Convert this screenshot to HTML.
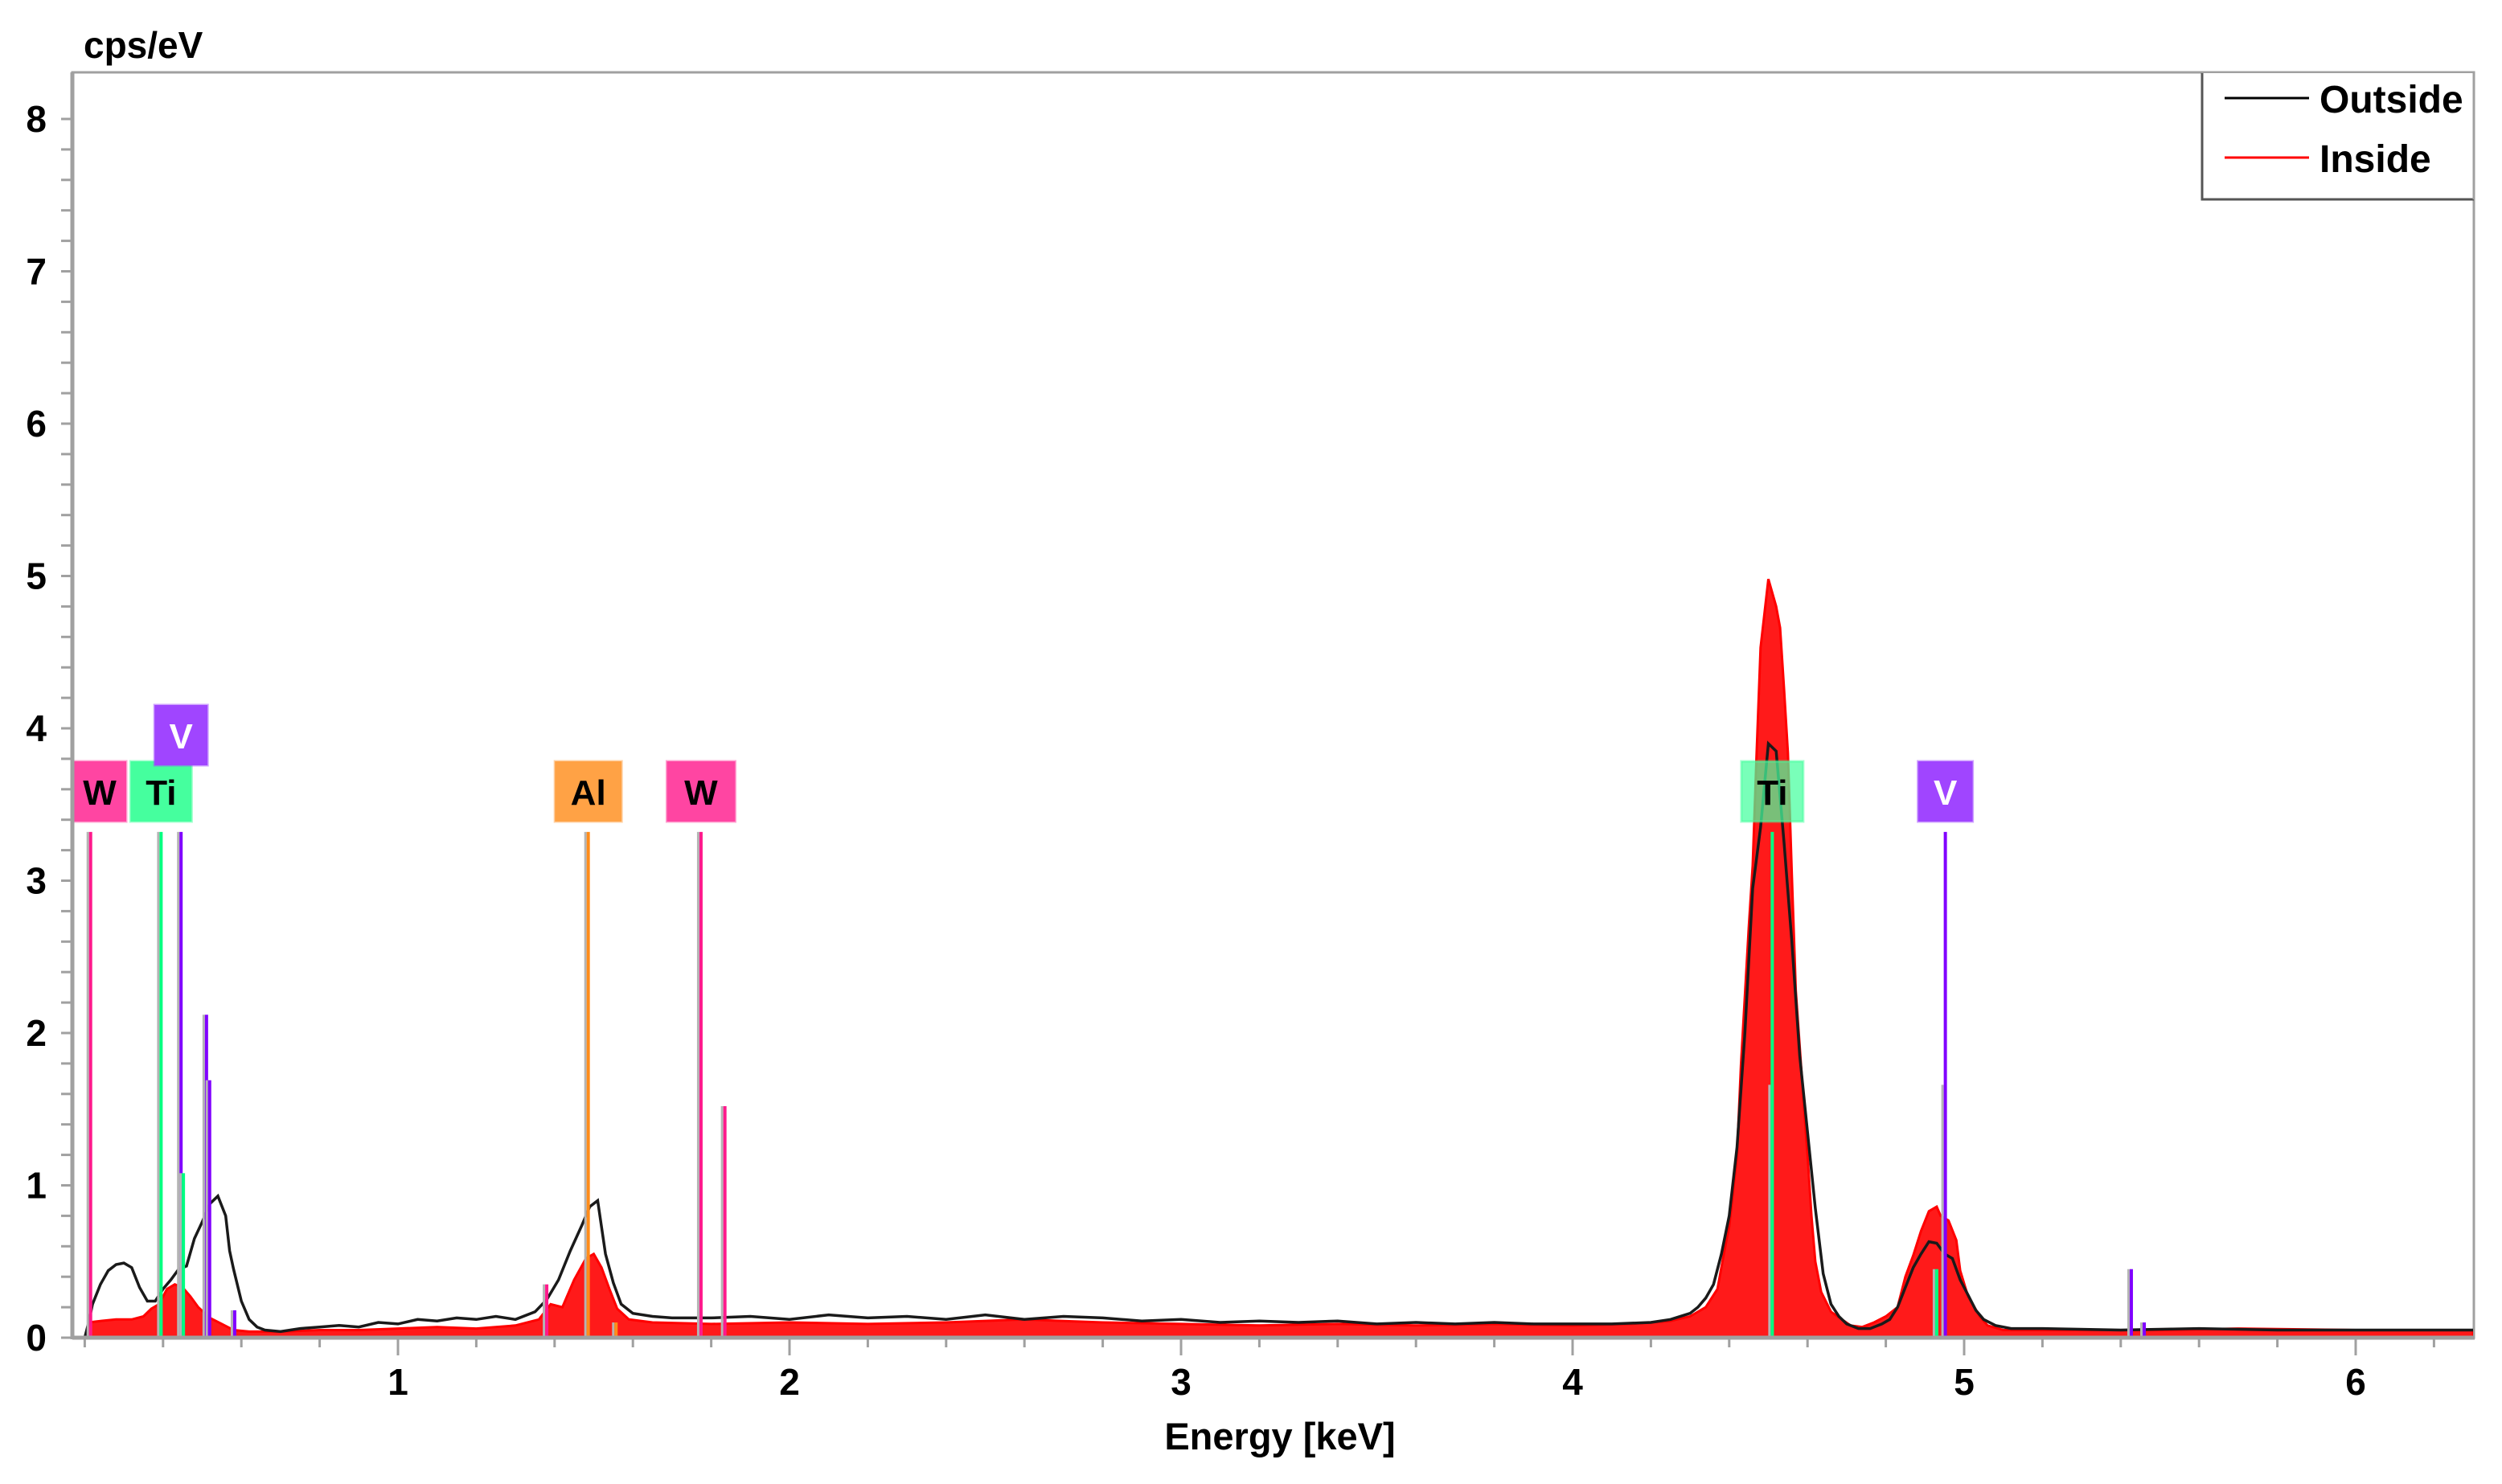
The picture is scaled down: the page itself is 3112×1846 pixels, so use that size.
<!DOCTYPE html>
<html><head><meta charset="utf-8">
<style>
html,body{margin:0;padding:0;background:#fff;}
svg{display:block;font-family:"Liberation Sans",Arial,sans-serif;font-weight:bold;}
</style></head>
<body>
<svg id="chart" width="3112" height="1846" viewBox="0 0 3112 1846" xmlns="http://www.w3.org/2000/svg">
<rect x="0" y="0" width="3112" height="1846" fill="#fff"/>
<defs><clipPath id="plotclip"><rect x="92" y="91" width="2984" height="1572"/></clipPath></defs>
<text x="104" y="72" font-size="46" fill="#000">cps/eV</text>
<rect x="90" y="90" width="2987" height="1574" fill="none" stroke="#a0a0a0" stroke-width="3"/>
<g id="yaxis"></g>
<g id="xaxis"></g>
<g id="series" clip-path="url(#plotclip)"></g>
<g id="markers" clip-path="url(#plotclip)"></g>
<g id="labels"></g>
<line x1="90" y1="1664" x2="3078" y2="1664" stroke="#a0a0a0" stroke-width="5"/>
<line x1="90" y1="90" x2="90" y2="1666" stroke="#a0a0a0" stroke-width="5"/>
<text x="1592" y="1803" font-size="47" text-anchor="middle" fill="#000">Energy [keV]</text>
<g>
<rect x="2739" y="91" width="337" height="157" fill="#fff" stroke="none"/>
<polyline points="2739,91 2739,248 3077,248" fill="none" stroke="#555" stroke-width="3"/>
<line x1="3077" y1="91" x2="3077" y2="248" stroke="#a0a0a0" stroke-width="3"/>
<line x1="2767" y1="122" x2="2872" y2="122" stroke="#000" stroke-width="3"/>
<text x="2885" y="140" font-size="48" fill="#000">Outside</text>
<line x1="2767" y1="196" x2="2872" y2="196" stroke="#ff0000" stroke-width="3"/>
<text x="2885" y="214" font-size="48" fill="#000">Inside</text>
</g>
</svg>
<script>
const outE=[0.20,0.21,0.22,0.24,0.26,0.28,0.30,0.32,0.34,0.36,0.38,0.40,0.42,0.44,0.46,0.48,0.50,0.52,0.54,0.56,0.57,0.58,0.60,0.62,0.64,0.66,0.70,0.75,0.80,0.85,0.90,0.95,1.00,1.05,1.10,1.15,1.20,1.25,1.30,1.35,1.38,1.41,1.44,1.47,1.49,1.51,1.53,1.55,1.57,1.60,1.65,1.70,1.80,1.90,2.00,2.10,2.20,2.30,2.40,2.50,2.60,2.70,2.80,2.90,3.00,3.10,3.20,3.30,3.40,3.50,3.60,3.70,3.80,3.90,4.00,4.10,4.20,4.25,4.30,4.32,4.34,4.36,4.38,4.40,4.42,4.44,4.46,4.48,4.50,4.52,4.54,4.56,4.58,4.60,4.62,4.64,4.66,4.68,4.70,4.73,4.76,4.79,4.81,4.83,4.85,4.87,4.89,4.91,4.93,4.95,4.97,4.99,5.01,5.03,5.05,5.08,5.12,5.20,5.40,5.60,5.80,6.00,6.20,6.30];
const outV=[0.0,0.10,0.22,0.35,0.44,0.48,0.49,0.46,0.33,0.24,0.24,0.32,0.38,0.45,0.47,0.65,0.76,0.88,0.93,0.80,0.57,0.45,0.24,0.12,0.07,0.05,0.04,0.06,0.07,0.08,0.07,0.10,0.09,0.12,0.11,0.13,0.12,0.14,0.12,0.17,0.25,0.38,0.57,0.74,0.86,0.90,0.55,0.36,0.22,0.16,0.14,0.13,0.13,0.14,0.12,0.15,0.13,0.14,0.12,0.15,0.12,0.14,0.13,0.11,0.12,0.10,0.11,0.10,0.11,0.09,0.10,0.09,0.10,0.09,0.09,0.09,0.10,0.12,0.16,0.20,0.26,0.35,0.55,0.80,1.25,2.00,2.95,3.35,3.90,3.85,3.25,2.60,1.85,1.35,0.85,0.42,0.22,0.14,0.09,0.06,0.06,0.09,0.12,0.20,0.33,0.46,0.55,0.63,0.62,0.55,0.52,0.38,0.28,0.18,0.12,0.08,0.06,0.06,0.05,0.06,0.05,0.05,0.05,0.05];
const inE=[0.20,0.21,0.24,0.28,0.32,0.35,0.37,0.39,0.41,0.43,0.45,0.47,0.49,0.52,0.55,0.58,0.62,0.70,0.80,0.90,1.00,1.10,1.20,1.30,1.36,1.39,1.42,1.45,1.48,1.50,1.52,1.54,1.56,1.59,1.65,1.80,2.00,2.20,2.40,2.60,2.70,2.80,3.00,3.20,3.40,3.60,3.80,4.00,4.15,4.25,4.30,4.34,4.37,4.39,4.40,4.42,4.43,4.45,4.46,4.47,4.48,4.50,4.52,4.53,4.54,4.55,4.56,4.57,4.585,4.60,4.61,4.62,4.635,4.66,4.71,4.74,4.77,4.80,4.83,4.85,4.87,4.89,4.91,4.93,4.94,4.96,4.98,4.99,5.01,5.04,5.06,5.10,5.30,5.50,5.70,6.00,6.30];
const inV=[0.0,0.10,0.11,0.12,0.12,0.14,0.19,0.22,0.32,0.35,0.33,0.27,0.20,0.13,0.09,0.05,0.04,0.04,0.05,0.05,0.06,0.07,0.06,0.08,0.12,0.22,0.20,0.38,0.52,0.55,0.46,0.32,0.19,0.12,0.10,0.09,0.10,0.09,0.10,0.12,0.11,0.10,0.09,0.08,0.09,0.08,0.09,0.08,0.09,0.11,0.14,0.20,0.32,0.60,0.73,1.20,1.79,2.70,3.10,3.84,4.53,4.98,4.80,4.66,4.26,3.84,3.04,2.28,1.73,1.20,0.80,0.50,0.30,0.17,0.08,0.07,0.10,0.14,0.20,0.40,0.54,0.70,0.83,0.86,0.80,0.77,0.64,0.44,0.27,0.14,0.08,0.05,0.05,0.05,0.06,0.05,0.05];
const lineE=[0.215,0.395,0.446,0.452,0.511,0.519,0.583,1.38,1.486,1.557,1.774,1.835,4.51,4.93,4.952,5.427,5.46];
const lineH=[3.32,3.32,3.32,1.08,2.12,1.69,0.18,0.35,3.32,0.10,3.32,1.52,3.32,0.45,3.32,0.45,0.10];
const lineShadowH=[3.32,3.32,3.32,1.08,2.12,1.69,0.18,0.35,3.32,0.10,3.32,1.52,1.66,0.45,1.66,0.45,0.10];
const lineEl=["W","Ti","V","Ti","V","V","V","W","Al","Al","W","W","Ti","Ti","V","V","V"];
const labelText=["W","Ti","V","Al","W","Ti","V"];
const labelE=[0.215,0.395,0.446,1.486,1.774,4.51,4.952];
const labelRow=[0,0,1,0,0,0,0];
const labelW=[66,76,66,83,85,77,68];
const yTicks=[0,1,2,3,4,5,6,7,8];
const xTicks=[1,2,3,4,5,6];

const NS="http://www.w3.org/2000/svg";
const X=e=>8+487*e;
const Y=v=>1664-189.5*v;
const colors={W:"#ff1a8c",Ti:"#00ff80",V:"#8000ff",Al:"#ff8c1a"};
const boxColors={W:"#ff45a2",Ti:"#45ff9e",V:"#a045ff",Al:"#ffa245"};
function mk(tag,attrs,parent){const el=document.createElementNS(NS,tag);for(const k in attrs)el.setAttribute(k,attrs[k]);parent.appendChild(el);return el;}

const yaxis=document.getElementById('yaxis');
for(let i=0;i<=40;i++){const v=i*0.2;const y=Y(v);
 const t=mk('line',{x1:76,y1:y,x2:90,y2:y,stroke:'#a0a0a0','stroke-width':3},yaxis);
 
 }
yTicks.forEach(v=>{const t=mk('text',{x:58,y:Y(v)+16,'font-size':46,'text-anchor':'end',fill:'#000'},yaxis);t.textContent=String(v);
 
 });
const xaxis=document.getElementById('xaxis');
for(let i=1;i<=31;i++){const e=i*0.2;const x=X(e);if(x>3077)continue;const major=Math.abs(e-Math.round(e))<1e-6;
 const t=mk('line',{x1:x,y1:1664,x2:x,y2:major?1686:1676,stroke:'#a0a0a0','stroke-width':3},xaxis);
 
 }
xTicks.forEach(v=>{const t=mk('text',{x:X(v),y:1735,'font-size':46,'text-anchor':'middle',fill:'#000'},xaxis);t.textContent=String(v);
 
 });

const series=document.getElementById('series');
let d='M'+X(inE[0])+','+Y(0);
inE.forEach((e,i)=>{d+=' L'+X(e).toFixed(1)+','+Y(inV[i]).toFixed(1);});
d+=' L'+X(inE[inE.length-1])+','+Y(0)+' Z';
const inside=mk('path',{d:d,fill:'#ff1a1a',stroke:'#ff0000','stroke-width':3,'stroke-linejoin':'miter'},series);


let pts=outE.map((e,i)=>X(e).toFixed(1)+','+Y(outV[i]).toFixed(1)).join(' ');
const outside=mk('polyline',{points:pts,fill:'none',stroke:'#1a1a1a','stroke-width':3.5},series);



const markers=document.getElementById('markers');
lineE.forEach((e,i)=>{const x=X(e);
 const s=mk('rect',{x:x-5,y:Y(lineShadowH[i]),width:3,height:1664-Y(lineShadowH[i]),fill:'#b4b4b4'},markers);
 
 
 const l=mk('rect',{x:x-2,y:Y(lineH[i]),width:4,height:1664-Y(lineH[i]),fill:colors[lineEl[i]]},markers);
 
 });

const labels=document.getElementById('labels');
labelText.forEach((t,i)=>{const w=labelW[i];let left=X(labelE[i])-w/2;if(left<91)left=91;
 const top=labelRow[i]===1?877:947;
 const g=mk('g',{},labels);
 
 
 mk('rect',{x:left,y:top,width:w,height:75,fill:boxColors[t],'fill-opacity':i===5?0.72:1,stroke:boxColors[t],'stroke-opacity':0.5,'stroke-width':3},g);
 const tx=mk('text',{x:left+w/2,y:top+54,'font-size':44,'text-anchor':'middle',fill:t==='V'?'#fff':'#000'},g);
 tx.textContent=t;});
</script>
</body></html>
